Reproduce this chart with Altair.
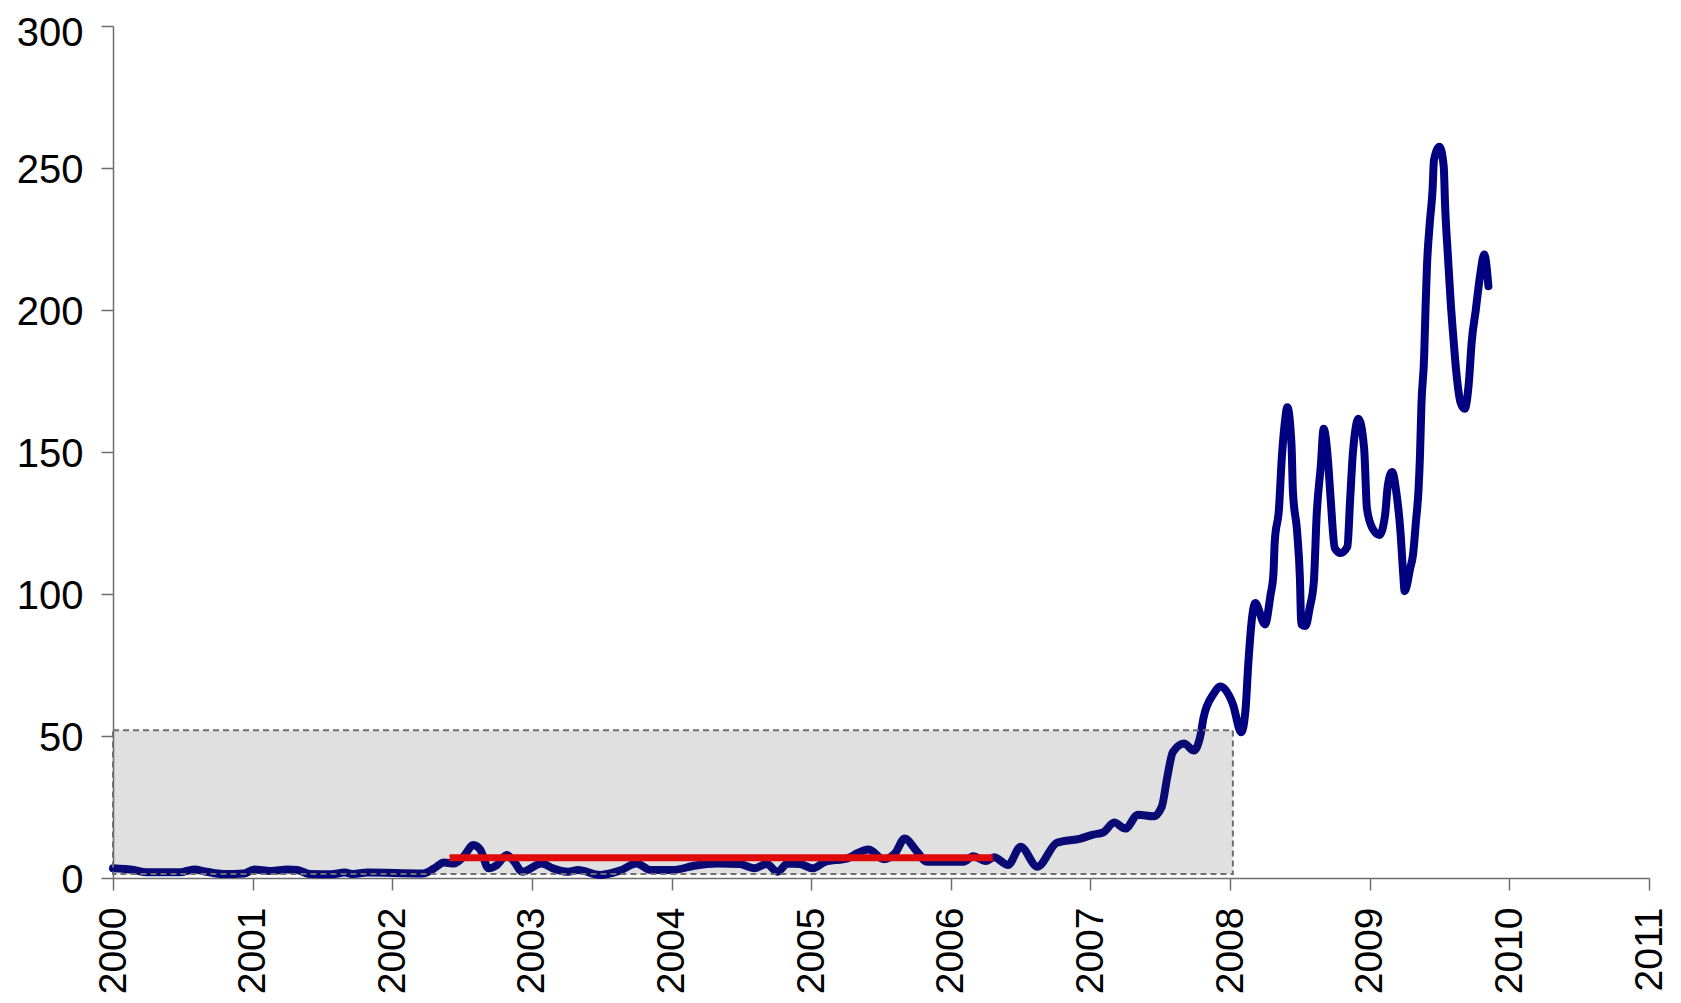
import altair as alt
import pandas as pd

# Blue series: decimal year and value
years = [2000.00, 2000.15, 2000.24, 2000.48, 2000.58, 2000.67, 2000.79, 2000.94, 2001.01, 2001.13,
         2001.25, 2001.32, 2001.41, 2001.56, 2001.66, 2001.72, 2001.82, 2002.22, 2002.30, 2002.37,
         2002.44, 2002.51, 2002.58, 2002.63, 2002.69, 2002.75, 2002.82, 2002.87, 2002.93, 2003.07,
         2003.15, 2003.26, 2003.33, 2003.49, 2003.63, 2003.75, 2003.85, 2004.01, 2004.16, 2004.33,
         2004.49, 2004.59, 2004.68, 2004.76, 2004.83, 2004.92, 2005.01, 2005.10, 2005.26, 2005.33,
         2005.41, 2005.52, 2005.60, 2005.67, 2005.75, 2005.83, 2006.00, 2006.09, 2006.16, 2006.25,
         2006.31, 2006.41, 2006.50, 2006.62, 2006.76, 2006.93, 2007.02, 2007.09, 2007.17, 2007.25,
         2007.34, 2007.45, 2007.51, 2007.55, 2007.59, 2007.67, 2007.74, 2007.79, 2007.81, 2007.88,
         2007.93, 2008.02, 2008.08, 2008.11, 2008.13, 2008.16, 2008.18, 2008.25, 2008.29, 2008.31,
         2008.32, 2008.35, 2008.37, 2008.39, 2008.41, 2008.44, 2008.45, 2008.48, 2008.50, 2008.51,
         2008.54, 2008.57, 2008.60, 2008.62, 2008.65, 2008.67, 2008.70, 2008.72, 2008.75, 2008.79,
         2008.84, 2008.86, 2008.88, 2008.92, 2008.96, 2008.98, 2009.02, 2009.07, 2009.11, 2009.13,
         2009.16, 2009.19, 2009.22, 2009.24, 2009.25, 2009.29, 2009.31, 2009.33, 2009.35, 2009.36,
         2009.37, 2009.39, 2009.40, 2009.41, 2009.43, 2009.45, 2009.46, 2009.50, 2009.53, 2009.54,
         2009.56, 2009.58, 2009.60, 2009.62, 2009.65, 2009.68, 2009.71, 2009.73, 2009.76, 2009.79,
         2009.82, 2009.85]
values = [3.4, 2.8, 2.0, 2.0, 3.0, 2.2, 1.4, 1.6, 3.0, 2.5,
          3.0, 2.8, 1.4, 1.3, 1.9, 1.4, 1.9, 1.6, 3.4, 5.5,
          5.1, 7.5, 11.6, 10.0, 3.4, 4.6, 8.1, 6.0, 2.2, 5.1,
          3.4, 2.2, 2.8, 1.1, 2.6, 5.1, 2.8, 2.8, 4.3, 5.1,
          4.9, 3.4, 4.9, 2.2, 5.1, 4.9, 3.4, 5.7, 6.9, 8.7,
          10.0, 6.6, 8.7, 13.9, 9.8, 5.7, 5.7, 5.7, 7.7, 6.0,
          7.3, 4.6, 11.0, 4.0, 12.4, 13.9, 15.3, 16.0, 19.5, 17.4,
          22.3, 21.7, 25.0, 35.5, 44.3, 47.4, 44.9, 50.7, 56.5, 64.7,
          67.4, 61.2, 51.3, 58.9, 75.2, 92.8, 96.8, 89.3, 99.8, 106.8,
          118.5, 130.0, 147.7, 159.4, 165.8, 152.4, 136.0, 122.0, 105.6, 89.3,
          88.7, 95.1, 104.5, 127.8, 145.4, 158.2, 147.7, 133.6, 116.1, 114.4,
          116.7, 133.6, 150.0, 161.7, 151.2, 130.1, 123.1, 120.8, 127.8, 138.3,
          143.0, 136.0, 122.0, 106.8, 101.0, 109.1, 113.8, 125.0, 137.2, 148.9,
          166.4, 183.9, 201.4, 215.5, 230.6, 242.3, 252.8, 257.5, 250.5, 236.5,
          219.0, 202.6, 189.7, 178.1, 167.5, 165.2, 174.5, 188.6, 200.2, 212.0,
          219.5, 208.4]

# Red reference level
red_start = [2002.41]
red_end = [2006.30]
red_level = [7.1]

# Shaded box
box_x = [2000.0]
box_x2 = [2008.02]
box_y = [1.4]
box_y2 = [52.0]

x_ticks = list(range(2000, 2012))
y_ticks = [0, 50, 100, 150, 200, 250, 300]

df = pd.DataFrame({"year": years, "value": values})
red_df = pd.DataFrame({"x": red_start, "x2": red_end, "y": red_level})
box_df = pd.DataFrame({"x": box_x, "x2": box_x2, "y": box_y, "y2": box_y2})

xscale = alt.Scale(domain=[2000, 2011], nice=False, zero=False)
yscale = alt.Scale(domain=[0, 300], nice=False)

axis_common = dict(
    grid=False,
    domainColor="#6e6e6e",
    domainWidth=1.5,
    tickColor="#6e6e6e",
    tickWidth=1.5,
    tickSize=12,
    labelFont="Liberation Sans",
    labelColor="#000000",
    title=None,
)

line = alt.Chart(df).mark_line(
    color="#000080", strokeWidth=8, interpolate="monotone",
    strokeJoin="round", strokeCap="round"
).encode(
    x=alt.X("year:Q", scale=xscale,
            axis=alt.Axis(values=x_ticks, format="d", labelAngle=270,
                          labelFontSize=39, labelPadding=17, **axis_common)),
    y=alt.Y("value:Q", scale=yscale,
            axis=alt.Axis(values=y_ticks, format="d",
                          labelOffset={"condition": {"test": "datum.value >= 300", "value": 7},
                                       "value": 2},
                          labelFontSize=40, labelPadding=18, **axis_common)),
)

red = alt.Chart(red_df).mark_rule(color="#ff0000", strokeWidth=7).encode(
    x=alt.X("x:Q", scale=xscale),
    x2="x2:Q",
    y=alt.Y("y:Q", scale=yscale),
)

box = alt.Chart(box_df).mark_rect(
    fill="#404040", fillOpacity=0.16,
    stroke="#707070", strokeOpacity=1, strokeWidth=2, strokeDash=[6, 4]
).encode(
    x=alt.X("x:Q", scale=xscale),
    x2="x2:Q",
    y=alt.Y("y:Q", scale=yscale),
    y2="y2:Q",
)

chart = alt.layer(line, red, box).properties(
    width=1536,
    height=852,
    autosize=alt.AutoSizeParams(type="none"),
    padding={"left": 105, "top": 18, "right": 24, "bottom": 117},
).configure_view(stroke=None)

chart.save("out.html", embed_options={"renderer": "svg", "actions": False})
